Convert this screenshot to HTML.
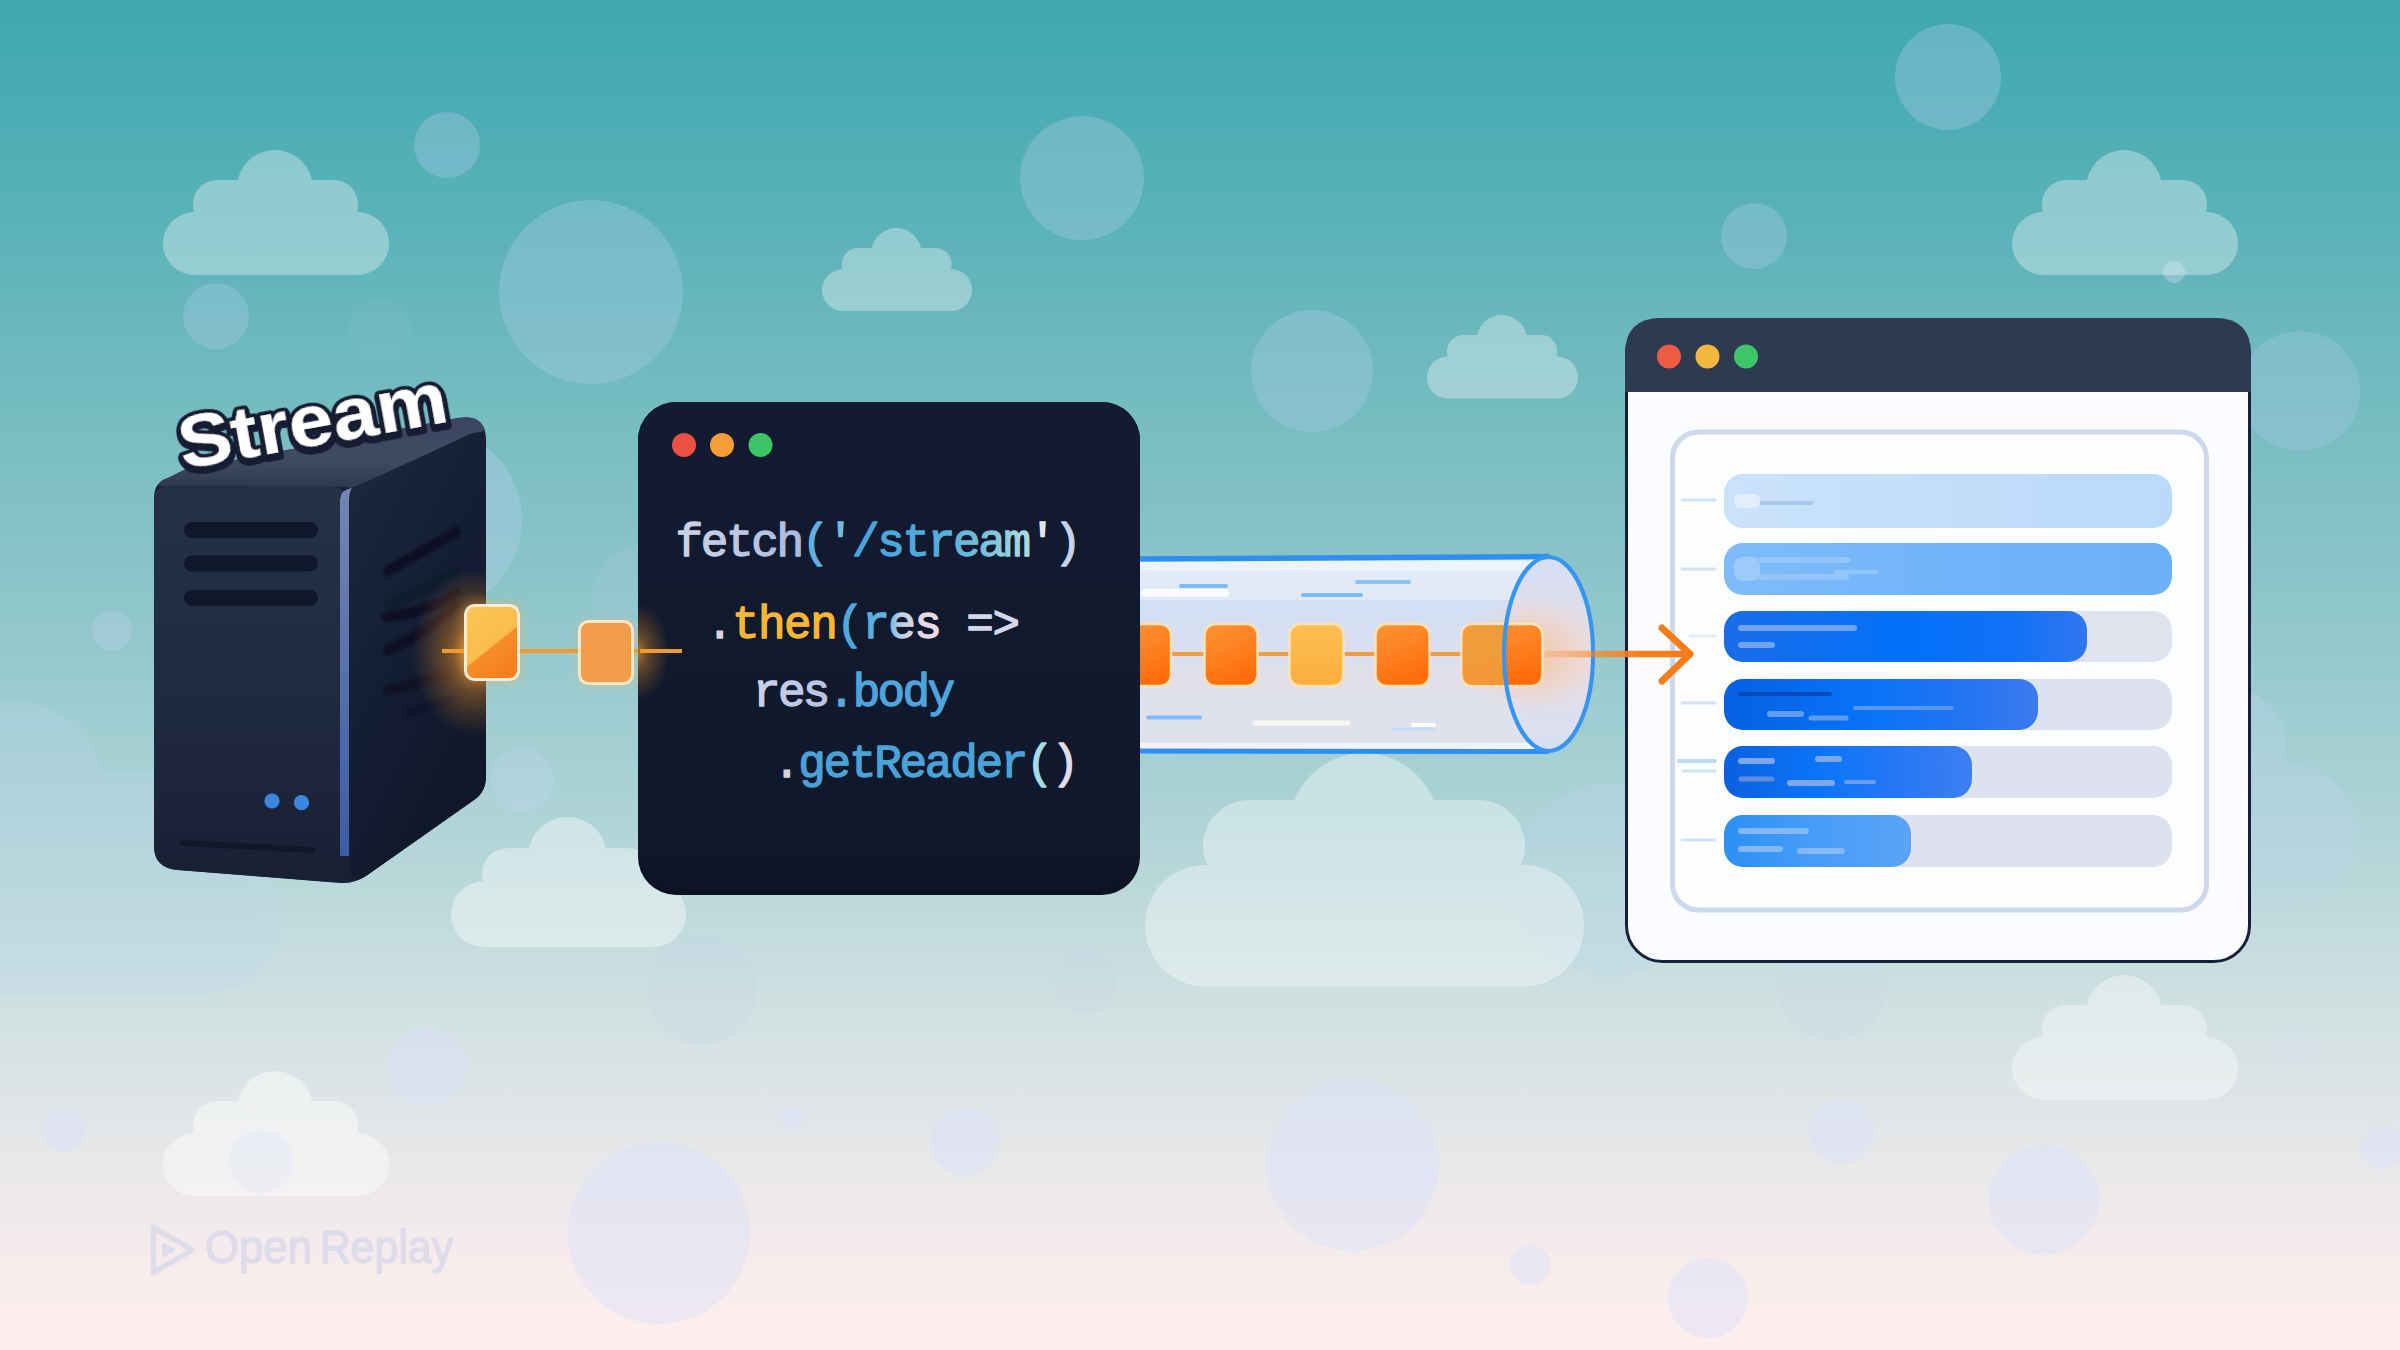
<!DOCTYPE html>
<html lang="en">
<head>
<meta charset="utf-8">
<title>Stream fetch illustration</title>
<style>
  html, body { margin: 0; padding: 0; width: 2400px; height: 1350px; overflow: hidden; background: #8ec5c8; }
  svg { display: block; position: absolute; left: 0; top: 0; }
  .mono { font-family: "Liberation Mono", "DejaVu Sans Mono", monospace; }
  .sans { font-family: "Liberation Sans", "DejaVu Sans", sans-serif; }
</style>
</head>
<body>
<svg width="2400" height="1350" viewBox="0 0 2400 1350">
  <defs>
    <linearGradient id="bg" x1="0" y1="0" x2="0" y2="1">
      <stop offset="0" stop-color="#3ea8af"/>
      <stop offset="0.15" stop-color="#58b1b8"/>
      <stop offset="0.30" stop-color="#75bcc1"/>
      <stop offset="0.45" stop-color="#8fc6ca"/>
      <stop offset="0.60" stop-color="#add3d6"/>
      <stop offset="0.74" stop-color="#cfe0e1"/>
      <stop offset="0.85" stop-color="#e6e7e9"/>
      <stop offset="0.93" stop-color="#f6ebec"/>
      <stop offset="1" stop-color="#feeeee"/>
    </linearGradient>
    <!-- cloud template: 226 x 125 -->
    <g id="cloud">
      <rect x="0" y="62" width="226" height="63" rx="31.5"/>
      <rect x="30" y="30" width="165" height="50" rx="24"/>
      <rect x="50" y="50" width="125" height="40"/>
      <circle cx="112" cy="38" r="38"/>
    </g>
    <linearGradient id="srvFront" x1="0" y1="0" x2="0" y2="1">
      <stop offset="0" stop-color="#263149"/>
      <stop offset="0.5" stop-color="#202a41"/>
      <stop offset="1" stop-color="#182034"/>
    </linearGradient>
    <linearGradient id="srvSide" x1="0" y1="0" x2="0.6" y2="1">
      <stop offset="0" stop-color="#1d2942"/>
      <stop offset="0.45" stop-color="#151f35"/>
      <stop offset="1" stop-color="#0f1729"/>
    </linearGradient>
    <linearGradient id="srvTop" x1="0" y1="0" x2="0" y2="1">
      <stop offset="0" stop-color="#3c4660"/>
      <stop offset="0.6" stop-color="#414a63"/>
      <stop offset="1" stop-color="#2e3850"/>
    </linearGradient>
    <linearGradient id="srvEdge" x1="0" y1="0" x2="0" y2="1">
      <stop offset="0" stop-color="#7585b3"/>
      <stop offset="0.5" stop-color="#5870ad"/>
      <stop offset="1" stop-color="#3c5ca6"/>
    </linearGradient>
    <radialGradient id="glowA" cx="0.5" cy="0.5" r="0.5">
      <stop offset="0" stop-color="#ffab3d" stop-opacity="0.95"/>
      <stop offset="0.45" stop-color="#f79428" stop-opacity="0.55"/>
      <stop offset="1" stop-color="#f79428" stop-opacity="0"/>
    </radialGradient>
    <filter id="blur2" x="-20%" y="-20%" width="140%" height="140%"><feGaussianBlur stdDeviation="2"/></filter>
    <filter id="blur1" x="-20%" y="-20%" width="140%" height="140%"><feGaussianBlur stdDeviation="1"/></filter>
    <filter id="blur4" x="-30%" y="-30%" width="160%" height="160%"><feGaussianBlur stdDeviation="4"/></filter>
    <linearGradient id="blkA" x1="0" y1="0" x2="0.57" y2="1">
      <stop offset="0" stop-color="#fbc556"/>
      <stop offset="0.625" stop-color="#f9bd4e"/>
      <stop offset="0.645" stop-color="#f68e27"/>
      <stop offset="1" stop-color="#f57f1c"/>
    </linearGradient>
    <clipPath id="srvClip"><path d="M154 498 Q154 482 168 478 L186 469 L458 418 Q486 414 486 440 L486 776 Q486 792 474 800 L366 876 Q354 884 340 883 L178 870 Q154 868 154 846 Z"/></clipPath>
    <radialGradient id="glowS" cx="0.5" cy="0.5" r="0.5">
      <stop offset="0" stop-color="#ffae42" stop-opacity="0.9"/>
      <stop offset="0.35" stop-color="#e8902e" stop-opacity="0.5"/>
      <stop offset="1" stop-color="#c87820" stop-opacity="0"/>
    </radialGradient>
    <linearGradient id="blkO" x1="0" y1="0" x2="0.35" y2="1">
      <stop offset="0" stop-color="#fc9434"/>
      <stop offset="0.5" stop-color="#fd8222"/>
      <stop offset="1" stop-color="#ff6d0c"/>
    </linearGradient>
    <linearGradient id="blkY" x1="0" y1="0" x2="0" y2="1">
      <stop offset="0" stop-color="#fdbf54"/>
      <stop offset="1" stop-color="#fbae3c"/>
    </linearGradient>
    <linearGradient id="codeBg" x1="0" y1="0" x2="0" y2="1">
      <stop offset="0" stop-color="#121b30"/>
      <stop offset="0.9" stop-color="#10182b"/>
      <stop offset="1" stop-color="#0d1424"/>
    </linearGradient>
    <linearGradient id="tubeBody" x1="0" y1="0" x2="0" y2="1">
      <stop offset="0" stop-color="#f4f8fe"/>
      <stop offset="0.07" stop-color="#e9f0fb"/>
      <stop offset="0.14" stop-color="#dbe6f6"/>
      <stop offset="0.45" stop-color="#dde3f3"/>
      <stop offset="0.75" stop-color="#e9e3ec"/>
      <stop offset="0.93" stop-color="#ebe9f2"/>
      <stop offset="1" stop-color="#f8f9fd"/>
    </linearGradient>
    <linearGradient id="tubeEnd" x1="0" y1="0" x2="0" y2="1">
      <stop offset="0" stop-color="#d6def2"/>
      <stop offset="0.5" stop-color="#e6dde6"/>
      <stop offset="1" stop-color="#d9e0f2"/>
    </linearGradient>
    <radialGradient id="glowB" cx="0.5" cy="0.5" r="0.5">
      <stop offset="0" stop-color="#ffb070" stop-opacity="0.6"/>
      <stop offset="0.6" stop-color="#ffc8a0" stop-opacity="0.35"/>
      <stop offset="1" stop-color="#ffd8c0" stop-opacity="0"/>
    </radialGradient>
    <linearGradient id="arrowG" x1="1550" y1="0" x2="1640" y2="0" gradientUnits="userSpaceOnUse">
      <stop offset="0" stop-color="#fb8a2e" stop-opacity="0.25"/>
      <stop offset="1" stop-color="#f97c1a" stop-opacity="1"/>
    </linearGradient>
    <linearGradient id="tubeMid" x1="0" y1="0" x2="0" y2="1">
      <stop offset="0" stop-color="#d2dff4"/>
      <stop offset="0.5" stop-color="#d9dff0"/>
      <stop offset="1" stop-color="#e4dfe8"/>
    </linearGradient>
    <clipPath id="codeClip"><rect x="638" y="402" width="502" height="493" rx="38"/></clipPath>
    <clipPath id="clipEnd"><ellipse cx="1549" cy="653.5" rx="43" ry="95.5"/></clipPath>
    <linearGradient id="r1" x1="0" y1="0" x2="1" y2="0"><stop offset="0" stop-color="#cbe2fb"/><stop offset="1" stop-color="#b9dafa"/></linearGradient>
    <linearGradient id="r2" x1="0" y1="0" x2="1" y2="0"><stop offset="0" stop-color="#7fbbf9"/><stop offset="0.5" stop-color="#72b4f9"/><stop offset="1" stop-color="#6bb0f8"/></linearGradient>
    <linearGradient id="r3" x1="0" y1="0" x2="1" y2="0"><stop offset="0" stop-color="#1a6de8"/><stop offset="0.5" stop-color="#0271fa"/><stop offset="0.8" stop-color="#1271f6"/><stop offset="1" stop-color="#3176f0"/></linearGradient>
    <linearGradient id="r4" x1="0" y1="0" x2="1" y2="0"><stop offset="0" stop-color="#0660e2"/><stop offset="0.45" stop-color="#0873f8"/><stop offset="0.8" stop-color="#2775f2"/><stop offset="1" stop-color="#3c7aee"/></linearGradient>
    <linearGradient id="r5" x1="0" y1="0" x2="1" y2="0"><stop offset="0" stop-color="#0a60e0"/><stop offset="0.4" stop-color="#0b76fa"/><stop offset="0.75" stop-color="#2a78f4"/><stop offset="1" stop-color="#3d7ef2"/></linearGradient>
    <linearGradient id="r6" x1="0" y1="0" x2="1" y2="0"><stop offset="0" stop-color="#2b90f4"/><stop offset="0.5" stop-color="#489df8"/><stop offset="1" stop-color="#5ba3f6"/></linearGradient>
    <linearGradient id="gFetch" gradientUnits="userSpaceOnUse" x1="678" y1="0" x2="800" y2="0"><stop offset="0" stop-color="#cdd3e7"/><stop offset="1" stop-color="#abbbde"/></linearGradient>
    <linearGradient id="gStream" gradientUnits="userSpaceOnUse" x1="852" y1="0" x2="1027" y2="0"><stop offset="0" stop-color="#48a3dc"/><stop offset="0.45" stop-color="#52aadb"/><stop offset="0.7" stop-color="#6fbbd9"/><stop offset="1" stop-color="#abdade"/></linearGradient>
    <linearGradient id="gRes2" gradientUnits="userSpaceOnUse" x1="864" y1="0" x2="938" y2="0"><stop offset="0" stop-color="#56ace0"/><stop offset="0.3" stop-color="#62b2e0"/><stop offset="0.5" stop-color="#bdd1e2"/><stop offset="0.75" stop-color="#e3d8e3"/><stop offset="1" stop-color="#f0dce3"/></linearGradient>
    <linearGradient id="gRes3" gradientUnits="userSpaceOnUse" x1="755" y1="0" x2="828" y2="0"><stop offset="0" stop-color="#cad0e8"/><stop offset="1" stop-color="#b8c3e4"/></linearGradient>
    <filter id="lblShadow" x="-10%" y="-30%" width="120%" height="170%">
      <feFlood flood-color="#141c30" result="c"/>
      <feComposite in="c" in2="SourceAlpha" operator="in" result="sh"/>
      <feMorphology in="sh" operator="dilate" radius="0.8" result="shd"/>
      <feOffset in="shd" dx="0" dy="3" result="o"/>
      <feMerge><feMergeNode in="o"/><feMergeNode in="SourceGraphic"/></feMerge>
    </filter>
    <!-- SECTION:DEFS -->
  </defs>

  <!-- background -->
  <rect x="0" y="0" width="2400" height="1350" fill="url(#bg)"/>

  <!-- bubbles -->
  <g id="bubbles">
    <circle cx="447" cy="145" r="33" fill="#a9c9e6" fill-opacity="0.38"/>
    <circle cx="591" cy="292" r="92" fill="#a9c9e6" fill-opacity="0.36"/>
    <circle cx="1082" cy="178" r="62" fill="#a9c9e6" fill-opacity="0.36"/>
    <circle cx="216" cy="316" r="33" fill="#a9c9e6" fill-opacity="0.36"/>
    <circle cx="112" cy="631" r="20" fill="#b9d0ea" fill-opacity="0.36"/>
    <circle cx="380" cy="330" r="32" fill="#a9c9e6" fill-opacity="0.10"/>
    <circle cx="430" cy="520" r="92" fill="#b0cfe8" fill-opacity="0.40"/>
    <circle cx="650" cy="600" r="58" fill="#b0cfe8" fill-opacity="0.18"/>
    <circle cx="1948" cy="77" r="53" fill="#a9c9e6" fill-opacity="0.36"/>
    <circle cx="1754" cy="236" r="33" fill="#a9c9e6" fill-opacity="0.36"/>
    <circle cx="1312" cy="371" r="61" fill="#a9c9e6" fill-opacity="0.36"/>
    <circle cx="2300" cy="391" r="60" fill="#a9c9e6" fill-opacity="0.32"/>
    <circle cx="2174" cy="272" r="11" fill="#c5dcec" fill-opacity="0.40"/>

    <circle cx="522" cy="780" r="32" fill="#c4d8ee" fill-opacity="0.28"/>
    <circle cx="702" cy="990" r="55" fill="#c4d4ee" fill-opacity="0.18"/>
    <circle cx="1085" cy="982" r="32" fill="#c4d4ee" fill-opacity="0.18"/>
    <circle cx="427" cy="1067" r="40" fill="#d9e1fa" fill-opacity="0.46"/>
    <circle cx="64" cy="1130" r="22" fill="#d9e1fa" fill-opacity="0.46"/>
    <circle cx="659" cy="1233" r="91" fill="#d9e1fa" fill-opacity="0.46"/>
    <circle cx="965" cy="1141" r="35" fill="#d9e1fa" fill-opacity="0.46"/>
    <circle cx="792" cy="1117" r="12" fill="#d9e1fa" fill-opacity="0.46"/>
    <circle cx="1353" cy="1165" r="86" fill="#d9e1fa" fill-opacity="0.46"/>
    <circle cx="1842" cy="1131" r="33" fill="#d9e1fa" fill-opacity="0.46"/>
    <circle cx="2044" cy="1200" r="55" fill="#d9e1fa" fill-opacity="0.46"/>
    <circle cx="1708" cy="1298" r="40" fill="#d9e1fa" fill-opacity="0.46"/>
    <circle cx="1530" cy="1265" r="20" fill="#d9e1fa" fill-opacity="0.46"/>
    <circle cx="2382" cy="1147" r="22" fill="#d9e1fa" fill-opacity="0.46"/>
    <circle cx="2295" cy="1047" r="22" fill="#d3e0f6" fill-opacity="0.2"/>
    <circle cx="1610" cy="880" r="97" fill="#bcd6ee" fill-opacity="0.28"/>
    <circle cx="1832" cy="985" r="55" fill="#c4d4ee" fill-opacity="0.18"/>
  </g>

  <!-- clouds -->
  <g id="clouds" fill="#ffffff">
    <!-- large faint left cloud behind server -->
    <g opacity="0.26" fill="#bdd6ee" transform="translate(-250 700) scale(2.35)"><use href="#cloud"/></g>
    <g opacity="0.30" fill="#bdd6ee" transform="translate(1837 620) scale(2.3)"><use href="#cloud"/></g>
    <g opacity="0.335" transform="translate(163 150)"><use href="#cloud"/></g>
    <g opacity="0.335" transform="translate(822 228) scale(0.664)"><use href="#cloud"/></g>
    <g opacity="0.335" transform="translate(2012 150)"><use href="#cloud"/></g>
    <g opacity="0.335" transform="translate(1427 315) scale(0.668)"><use href="#cloud"/></g>
    <g opacity="0.40" transform="translate(451 817) scale(1.04)"><use href="#cloud"/></g>
    <g opacity="0.36"><rect x="1145" y="865" width="439" height="121.5" rx="60.5"/><rect x="1203" y="800" width="322" height="92" rx="46"/><rect x="1245" y="840" width="240" height="60"/><circle cx="1364" cy="828" r="75"/></g>
    <g opacity="0.36" transform="translate(2012 975)"><use href="#cloud"/></g>
    <g opacity="0.45" transform="translate(163 1071)"><use href="#cloud"/></g>
  </g>

  <circle cx="261" cy="1162" r="32" fill="#dfe6fa" fill-opacity="0.32"/>

  <!-- server -->
  <g id="server">
    <!-- silhouette -->
    <path d="M154 498 Q154 482 168 478 L186 469 L458 418 Q486 414 486 440 L486 776 Q486 792 474 800 L366 876 Q354 884 340 883 L178 870 Q154 868 154 846 Z" fill="#182034"/>
    <!-- top face -->
    <path d="M158 486 Q160 480 168 478 L186 469 L458 418 Q480 414 485 430 L352 488 Q340 486 330 487 Z" fill="url(#srvTop)"/>
    <!-- front face -->
    <path d="M154 500 Q154 486 170 485 L330 486 Q345 486 345 500 L345 868 Q345 883 332 882 L178 870 Q154 868 154 846 Z" fill="url(#srvFront)"/>
    <!-- side face -->
    <path d="M350 500 Q350 490 360 485 L470 434 Q486 428 486 444 L486 776 Q486 792 474 800 L366 876 Q350 886 350 868 Z" fill="url(#srvSide)"/>
    <!-- edge highlight -->
    <path d="M340 500 Q341 489 352 488 Q349 492 349 502 L349 856 L340 856 Z" fill="url(#srvEdge)"/>
    <!-- front vents -->
    <rect x="184" y="522" width="134" height="16" rx="8" fill="#0f172a"/>
    <rect x="184" y="555.5" width="134" height="16" rx="8" fill="#0f172a"/>
    <rect x="184" y="590" width="134" height="16" rx="8" fill="#0f172a"/>
    <!-- bottom slot -->
    <path d="M183 843 L312 850" stroke="#0f172a" stroke-width="6" stroke-linecap="round" fill="none"/>
    <!-- side vents -->
    <g stroke="#0b1222" stroke-width="10" stroke-linecap="round" fill="none" filter="url(#blur1)">
      <path d="M388 571 L456 532" opacity="0.95"/>
      <path d="M390 605 L456 572" opacity="0.35"/>
      <path d="M387 617 Q430 612 457 593" opacity="0.95"/>
      <path d="M388 650 Q430 632 456 605" opacity="0.95"/>
      <path d="M388 690 Q420 683 456 671" opacity="0.8"/>
      <path d="M410 712 L450 700" opacity="0.25"/>
    </g>
    <!-- glow of the first packet on the side face -->
    <g clip-path="url(#srvClip)"><ellipse cx="474" cy="652" rx="62" ry="84" fill="url(#glowS)"/></g>
    <!-- LEDs -->
    <circle cx="272" cy="801" r="7.6" fill="#3a86e0"/>
    <circle cx="301.5" cy="802.7" r="7.6" fill="#3a86e0"/>
  </g>
  <!-- Stream label -->
  <g class="sans" font-weight="700" font-size="74.5" transform="translate(183 469.5) rotate(-10.2)" filter="url(#lblShadow)">
    <text x="0" y="0" textLength="272" lengthAdjust="spacingAndGlyphs" fill="#ffffff" stroke="#141c30" stroke-width="7.5" stroke-linejoin="round" paint-order="stroke">Stream</text>
  </g>
  <!-- SECTION:SERVER -->

  <!-- link between server and code window -->
  <g id="link">
    <rect x="460" y="600" width="64" height="85" rx="14" fill="#ffb347" opacity="0.22" filter="url(#blur4)"/>
    <rect x="576" y="618" width="62" height="70" rx="14" fill="#ffc061" opacity="0.2" filter="url(#blur4)"/>
    <path d="M442 651 L682 651" stroke="#f39a2d" stroke-width="4" fill="none"/>
    <rect x="465.5" y="605.5" width="53" height="74" rx="9" fill="url(#blkA)" stroke="#fdecd3" stroke-width="3"/>
    <rect x="579.5" y="621.5" width="53" height="62" rx="9" fill="#f19d49" stroke="#fbe6c8" stroke-width="3"/>
  </g>
  <!-- SECTION:LINK -->

  <!-- pipe -->
  <g id="pipe">
    <!-- body -->
    <path d="M1140 558.5 L1549 556 A45 97.5 0 0 1 1549 751 L1140 750 Z" fill="#e1eaf7"/>
    <rect x="1140" y="561" width="400" height="10" fill="#eef4fc" opacity="0.9"/>
    <rect x="1140" y="600" width="380" height="90" fill="url(#tubeMid)"/>
    <rect x="1140" y="690" width="390" height="54" fill="#dfe2ed"/>
    <rect x="1140" y="743" width="400" height="6" fill="#f2f3fa"/>
    <!-- top/bottom outlines -->
    <path d="M1140 559 L1549 556.5" stroke="#2f8ff0" stroke-width="5.5" fill="none"/>
    <path d="M1140 751 L1549 751.5" stroke="#2f8ff0" stroke-width="5" fill="none"/>
    <!-- streak marks -->
    <g stroke-linecap="round" fill="none" stroke-width="4">
      <path d="M1181 586 L1226 586" stroke="#7dbcf6"/>
      <path d="M1145 593 L1225 593" stroke="#ffffff" stroke-width="8" opacity="0.8"/>
      <path d="M1357 582 L1409 582" stroke="#8cc3f7"/>
      <path d="M1303 595 L1361 595" stroke="#7dbcf6"/>
      <path d="M1148 717.5 L1200 717.5" stroke="#7dbcf6"/>
      <path d="M1255 723 L1348 723" stroke="#f8f6f2" stroke-width="5"/>
      <path d="M1393 729 L1434 729" stroke="#c5dcf8" stroke-width="3"/>
      <path d="M1413 725 L1434 725" stroke="#ffffff" stroke-width="4"/>
    </g>
    <!-- end cap -->
    <ellipse cx="1548.6" cy="654" rx="44.5" ry="97" fill="url(#tubeEnd)"/>
    <ellipse cx="1530" cy="655" rx="75" ry="60" fill="url(#glowB)"/>
    <!-- connector -->
    <path d="M1165 654 L1470 654" stroke="#f59a3e" stroke-width="4" fill="none"/>
    <!-- blocks -->
    <g stroke="#ffe2b4" stroke-width="2.5">
      <rect x="1120" y="624" width="51" height="62" rx="11" fill="url(#blkO)"/>
      <rect x="1204.5" y="624" width="53" height="62" rx="11" fill="url(#blkO)"/>
      <rect x="1289.5" y="624" width="54" height="62" rx="11" fill="url(#blkY)"/>
      <rect x="1375.5" y="624" width="54" height="62" rx="11" fill="url(#blkO)"/>
      <rect x="1461.5" y="624" width="81" height="62" rx="11" fill="url(#blkO)"/>
    </g>
    <!-- part of last block seen through the tube wall (duller) -->
    <path d="M1472.5 625.2 L1506 625.2 Q1503 654 1506 684.8 L1472.5 684.8 Q1462.7 684.8 1462.7 675 L1462.7 635 Q1462.7 625.2 1472.5 625.2 Z" fill="#f0a03f" opacity="0.85"/>
    <!-- end cap outline -->
    <ellipse cx="1548.6" cy="654" rx="44.5" ry="97" fill="none" stroke="#3595f3" stroke-width="4.2"/>
  </g>
  <!-- code window -->
  <g id="codewin">
    <rect x="638" y="402" width="502" height="493" rx="38" fill="#0c1322"/>
    <rect x="638" y="402" width="502" height="487" rx="38" fill="url(#codeBg)"/>
    <circle cx="684" cy="445" r="12" fill="#ee4f43"/>
    <circle cx="722" cy="445" r="12" fill="#f59d38"/>
    <circle cx="760.5" cy="445" r="12" fill="#3cc466"/>
    <g clip-path="url(#codeClip)"><ellipse cx="636" cy="652" rx="34" ry="50" fill="url(#glowS)" opacity="0.75"/></g>
    <path d="M640 651 L682 651" stroke="#f39a2d" stroke-width="4" fill="none"/>
    <g class="mono" font-size="46" stroke-width="1.3" stroke-linejoin="round" xml:space="preserve">
      <text x="675.5" y="556" textLength="406" lengthAdjust="spacing"><tspan fill="url(#gFetch)" stroke="url(#gFetch)">fetch</tspan><tspan fill="#5fb0e4" stroke="#5fb0e4">(</tspan><tspan fill="#74b9e2" stroke="#74b9e2">'</tspan><tspan fill="url(#gStream)" stroke="url(#gStream)">/stream</tspan><tspan fill="#dfe7f0" stroke="#dfe7f0">'</tspan><tspan fill="#c7d0ee" stroke="#c7d0ee">)</tspan></text>
      <text x="706" y="638" textLength="314" lengthAdjust="spacing"><tspan fill="#d8d2e0" stroke="#d8d2e0">.</tspan><tspan fill="#f8b634" stroke="#f8b634">then</tspan><tspan fill="#4ea8dc" stroke="#4ea8dc">(</tspan><tspan fill="url(#gRes2)" stroke="url(#gRes2)">res</tspan><tspan fill="#d3d7ed" stroke="#d3d7ed"> =&gt;</tspan></text>
      <text x="753" y="706" textLength="202" lengthAdjust="spacing"><tspan fill="url(#gRes3)" stroke="url(#gRes3)">res</tspan><tspan fill="#5aa8dc" stroke="#5aa8dc">.</tspan><tspan fill="#4ea5de" stroke="#4ea5de">body</tspan></text>
      <text x="773" y="777" textLength="306" lengthAdjust="spacing"><tspan fill="#d3d5de" stroke="#d3d5de">.</tspan><tspan fill="#4aa3d8" stroke="#4aa3d8">getReader</tspan><tspan fill="#a4dcea" stroke="#a4dcea">(</tspan><tspan fill="#e2dbea" stroke="#e2dbea">)</tspan></text>
    </g>
  </g>
  <!-- SECTION:CODE -->

    <!-- SECTION:PIPE -->

  <!-- browser window -->
  <g id="browser">
    <rect x="1626.5" y="319.5" width="623" height="642" rx="36" fill="#fbfcff" stroke="#16203a" stroke-width="3"/>
    <path d="M1625 392 L1625 354 Q1625 318 1661 318 L2215 318 Q2251 318 2251 354 L2251 392 Z" fill="#2d3a50"/>
    <circle cx="1669" cy="356.5" r="12" fill="#ee5a44"/>
    <circle cx="1707.5" cy="356.5" r="12" fill="#f3b63f"/>
    <circle cx="1746" cy="356.5" r="12" fill="#3ec56a"/>
    <!-- inner card -->
    <rect x="1672.5" y="432" width="534" height="478" rx="26" fill="#fcfdff" stroke="#cdd8ec" stroke-width="5"/>
    <!-- left ticks -->
    <g stroke="#d3e3f6" stroke-width="3" stroke-linecap="round">
      <path d="M1682 500 L1715 500"/>
      <path d="M1682 569 L1715 569"/>
      <path d="M1690 636 L1715 636" opacity="0.6"/>
      <path d="M1682 703 L1715 703"/>
      <path d="M1679 761 L1715 761" stroke="#bcd9f6" stroke-width="4"/>
      <path d="M1683 771 L1715 771"/>
      <path d="M1682 840 L1715 840"/>
    </g>
    <!-- rows -->
    <rect x="1724" y="474" width="448" height="54" rx="19" fill="url(#r1)"/>
    <rect x="1724" y="543" width="448" height="52" rx="19" fill="url(#r2)"/>
    <rect x="1724" y="611" width="448" height="51" rx="19" fill="#dfe3ee"/>
    <rect x="1724" y="679" width="448" height="51" rx="19" fill="#dde2ee"/>
    <rect x="1724" y="746" width="448" height="52" rx="19" fill="#dde2ee"/>
    <rect x="1724" y="815" width="448" height="52" rx="19" fill="#dde2ee"/>
    <rect x="1724" y="611" width="363" height="51" rx="19" fill="url(#r3)"/>
    <rect x="1724" y="679" width="314" height="51" rx="19" fill="url(#r4)"/>
    <rect x="1724" y="746" width="248" height="52" rx="19" fill="url(#r5)"/>
    <rect x="1724" y="815" width="187" height="52" rx="19" fill="url(#r6)"/>
    <!-- placeholder marks inside rows -->
    <g stroke-linecap="round" fill="none">
      <rect x="1734" y="494" width="26" height="14" rx="6" fill="#e2eefc"/>
      <path d="M1762 503 L1812 503" stroke="#a9c8ee" stroke-width="4"/>
      <rect x="1734" y="557" width="26" height="24" rx="8" fill="#9ccaf9"/>
      <path d="M1760 560 L1848 560" stroke="#94c5f9" stroke-width="6"/>
      <path d="M1760 577 L1846 577" stroke="#94c5f9" stroke-width="6"/>
      <path d="M1836 572 L1876 572" stroke="#94c5f9" stroke-width="4"/>
      <path d="M1741 628 L1854 628" stroke="#6fa2f0" stroke-width="6"/>
      <path d="M1741 645 L1772 645" stroke="#6fa2f0" stroke-width="6"/>
      <path d="M1740 694 L1830 694" stroke="#0a3fa8" stroke-width="4" opacity="0.7"/>
      <path d="M1770 714 L1801 714" stroke="#5f9cf0" stroke-width="6"/>
      <path d="M1811 718 L1846 718" stroke="#5f9cf0" stroke-width="5"/>
      <path d="M1855 708 L1952 708" stroke="#5a96ee" stroke-width="4"/>
      <path d="M1741 761 L1772 761" stroke="#7ea6ea" stroke-width="6"/>
      <path d="M1818 759 L1839 759" stroke="#7ea6ea" stroke-width="6"/>
      <path d="M1741 779 L1772 779" stroke="#5c8be0" stroke-width="5"/>
      <path d="M1790 783 L1832 783" stroke="#7ea6ea" stroke-width="6"/>
      <path d="M1846 782 L1874 782" stroke="#6a9cec" stroke-width="4"/>
      <path d="M1741 831 L1806 831" stroke="#86b7f6" stroke-width="6"/>
      <path d="M1741 849 L1780 849" stroke="#86b7f6" stroke-width="6"/>
      <path d="M1800 851 L1842 851" stroke="#86b7f6" stroke-width="6"/>
    </g>
  </g>
  <!-- SECTION:BROWSER -->

  <g id="arrow">
    <!-- arrow -->
    <path d="M1548 654 L1690 654" stroke="url(#arrowG)" stroke-width="6.5" fill="none" stroke-linecap="round"/>
    <path d="M1662 628 L1690 654 L1662 681" stroke="#f97c1a" stroke-width="7" fill="none" stroke-linecap="round" stroke-linejoin="round"/>
  </g>

  <!-- OpenReplay logo -->
  <g id="logo" opacity="0.9">
    <path d="M153.5 1227.5 L153.5 1272.5 L192 1250 Z" fill="none" stroke="#dcdbea" stroke-width="5.5" stroke-linejoin="round"/>
    <path d="M163 1244 L163 1256 L174 1250 Z" fill="#dcdbea" stroke="#dcdbea" stroke-width="2" stroke-linejoin="round"/>
    <text class="sans" x="205" y="1263" font-size="47" fill="#dcdbea" stroke="#dcdbea" stroke-width="1.5" stroke-linejoin="round"><tspan textLength="107" lengthAdjust="spacingAndGlyphs">Open</tspan><tspan x="320" textLength="133" lengthAdjust="spacingAndGlyphs">Replay</tspan></text>
  </g>
  <!-- SECTION:LOGO -->
</svg>
</body>
</html>
